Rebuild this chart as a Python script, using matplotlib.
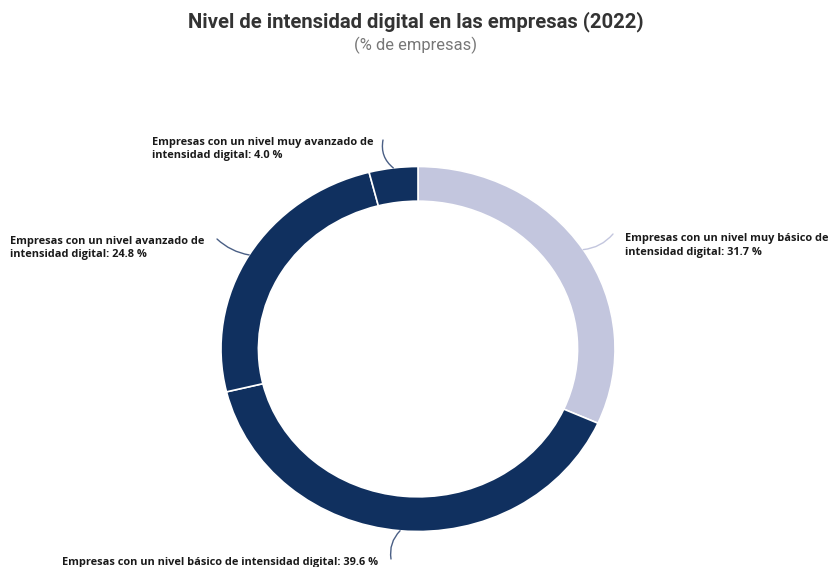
import numpy as np
import matplotlib
matplotlib.use("Agg")
import matplotlib.pyplot as plt

# data (clockwise from 12 o'clock)
labels = [
    "Empresas con un nivel muy básico de\nintensidad digital: 31.7 %",
    "Empresas con un nivel básico de intensidad digital: 39.6 %",
    "Empresas con un nivel avanzado de\nintensidad digital: 24.8 %",
    "Empresas con un nivel muy avanzado de\nintensidad digital: 4.0 %",
]
values = [31.7, 39.6, 24.8, 4.0]
colors = ["#c3c6de", "#10305f", "#10305f", "#10305f"]
line_colors = ["#c3c6de", "#4a5f85", "#4a5f85", "#4a5f85"]

W, H = 829, 567
fig = plt.figure(figsize=(W / 100, H / 100), dpi=100)

# ring box in pixels (slightly oval like the original)
cx, cy, rx, ry = 418, 349, 197, 182.5
ax = fig.add_axes([(cx - rx) / W, (H - cy - ry) / H, 2 * rx / W, 2 * ry / H])
wedges, _ = ax.pie(values, startangle=90, counterclock=False, colors=colors,
                   wedgeprops=dict(width=0.19, edgecolor="white", linewidth=1.2))
ax.set_aspect("auto")
ax.set_xlim(-1, 1)
ax.set_ylim(-1, 1)
ax.axis("off")

# label text positions (pixels from top-left) and leader ends
text_pos = [(625, 245.5, "left"), (62, 562, "left"), (10, 248, "left"), (152, 149, "left")]
line_end = [(613, 234), (391, 559), (217, 239), (383, 140)]
rads = [-0.2, -0.25, 0.15, 0.3]

for w, lab, (tx, ty, ha), (lx, ly), lc, rad in zip(wedges, labels, text_pos, line_end, line_colors, rads):
    mid = np.deg2rad((w.theta1 + w.theta2) / 2)
    ax.annotate("", xy=(np.cos(mid), np.sin(mid)), xycoords="data",
                xytext=(lx, H - ly), textcoords="figure pixels",
                arrowprops=dict(arrowstyle="-", color=lc, lw=1,
                                connectionstyle="arc3,rad=%s" % rad,
                                shrinkA=0, shrinkB=0),
                annotation_clip=False)
    fig.text(tx / W, (H - ty) / H, lab, ha=ha, va="center", fontsize=7.9,
             fontweight="bold", family="Open Sans", color="#1a1a1a", linespacing=1.25)

fig.text(416 / W, 1 - 22 / H, "Nivel de intensidad digital en las empresas (2022)",
         ha="center", va="center", fontsize=14.6, fontweight="bold",
         family="Roboto", color="#333333")
fig.text(416 / W, 1 - 45 / H, "(% de empresas)", ha="center", va="center",
         fontsize=11.9, family="Roboto", color="#777777")

fig.savefig("out.png", dpi=100)
